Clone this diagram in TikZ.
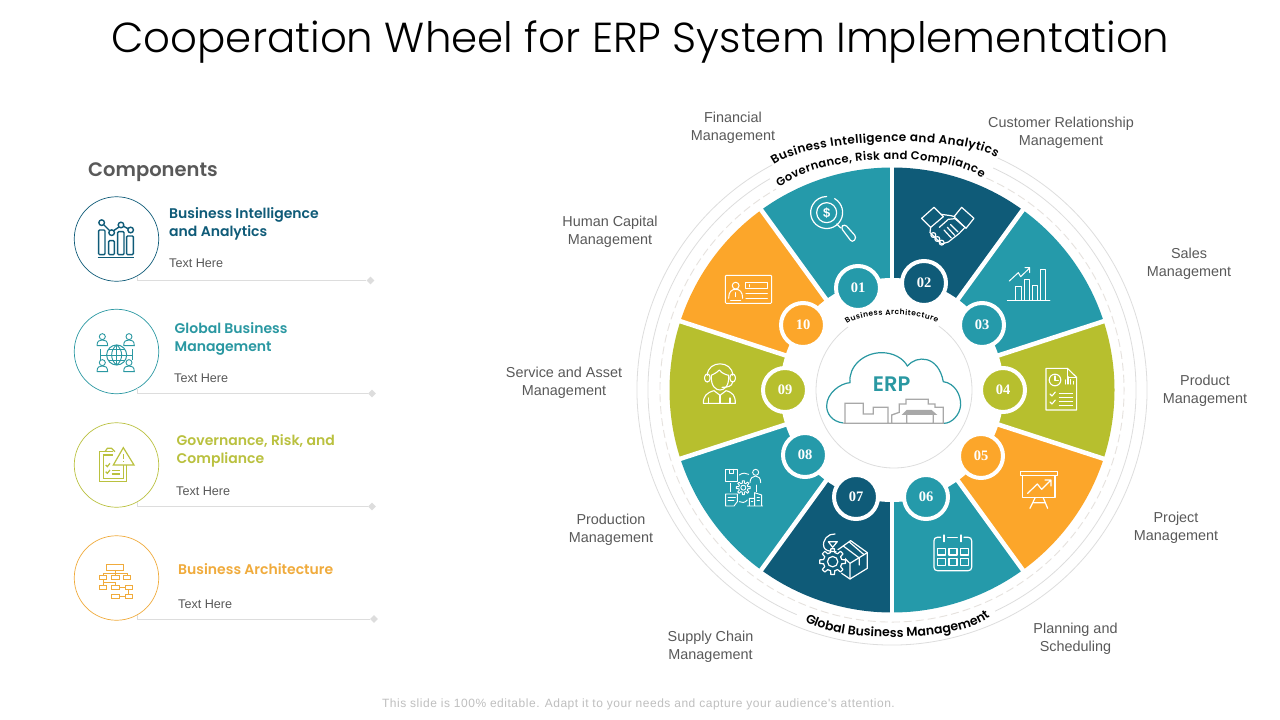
\documentclass[tikz,border=0pt]{standalone}
\usepackage{fontspec}
\setmainfont{Liberation Sans}
\newfontfamily\gothic{Poppins}
\newfontfamily\gothiclight[UprightFont=* Light]{Poppins}
\newfontfamily\gothicbold[UprightFont=* SemiBold]{Poppins}
\newfontfamily\numfont{Liberation Serif}
\newfontfamily\footfont[LetterSpace=4.4]{Liberation Sans}
\usetikzlibrary{decorations.text,shapes.geometric}
\definecolor{cteal}{HTML}{259AAA}
\definecolor{cdark}{HTML}{0F5B78}
\definecolor{colive}{HTML}{B7BF2E}
\definecolor{corange}{HTML}{FCA62A}
\definecolor{hteal}{HTML}{2A98A2}
\definecolor{holive}{HTML}{BAC13F}
\definecolor{horange}{HTML}{F0AB3C}
\definecolor{lblgray}{HTML}{595959}
\definecolor{ringgray}{HTML}{DDDDDD}
\definecolor{dashgray}{HTML}{E6E2DE}
\definecolor{bldgray}{HTML}{A8A8A8}
\tikzset{
  wedgefill/.style={fill=#1,draw=none},
  gapline/.style={white,line width=4.5pt},
  numring/.style={circle,fill=#1,draw=white,line width=4pt,minimum size=44pt,inner sep=0pt,text=white,font=\numfont\bfseries\fontsize{14.5}{14.5}\selectfont},
  label/.style={align=center,text=lblgray,font=\fontsize{14.4}{18}\selectfont},
  bighead/.style={anchor=west,align=left,font=\gothicbold\fontsize{14}{18}\selectfont},
  subtext/.style={anchor=west,text=lblgray,font=\fontsize{12.6}{14}\selectfont},
  hcircle/.style={circle,draw=#1,line width=.7pt,minimum size=84.5pt,inner sep=0pt},
  leader/.style={draw=#1,line width=.9pt},
  enddot/.style={diamond,fill=#1,inner sep=0pt,minimum size=8pt},
  wicon/.style={draw=white,line width=1.2pt,line join=round,line cap=round},
  zoomed/.style={x=.3333pt,y=-.3333pt}
}
\newcommand{\curvetext}[6]{% P0,C1,C2,P3,size,text
  \path[decorate,decoration={text along path,text align={fit to path},
     text={|\gothicbold\fontsize{#5}{#5}\selectfont|#6}}]
     (#1) .. controls (#2) and (#3) .. (#4);}
\newcommand{\gearshape}[4]{% cx,cy,r1,r2 : gear outline in local units
  \foreach \t in {0,45,...,315}{
    \draw (#1,#2) ++(\t-13:#3) -- ($(#1,#2)+(\t-8:#4)$) -- ($(#1,#2)+(\t+8:#4)$) -- ($(#1,#2)+(\t+13:#3)$) -- ($(#1,#2)+(\t+32:#3)$);
  }}
\usetikzlibrary{calc}
\begin{document}
\begin{tikzpicture}[x=1pt,y=-1pt]
\useasboundingbox (0,0) rectangle (1280,720);
\fill[white] (0,0) rectangle (1280,720);

\node[inner sep=0pt] (title) at (640.5,42) {\resizebox{1058pt}{!}{\gothiclight\fontsize{44}{44}\selectfont Cooperation Wheel for ERP System Implementation}};

% left panel
\node[anchor=west,text=lblgray,inner sep=0pt] (comp) at (88,172) {\gothicbold\fontsize{19.5}{20}\selectfont Components};

\node[hcircle=cdark] (c1) at (116.5,239) {};
\node[enddot=ringgray] (d1) at (370.5,280.5) {};
\draw[leader=ringgray] (c1.300) |- (d1);
\node[bighead,text=cdark,inner sep=0pt] (h1) at (169,224) {Business Intelligence\\and Analytics};
\node[subtext,inner sep=0pt] (s1) at (169,263) {Text Here};

\node[hcircle=hteal] (c2) at (116.5,351.5) {};
\node[enddot=ringgray] (d2) at (372,393.5) {};
\draw[leader=ringgray] (c2.300) |- (d2);
\node[bighead,text=hteal,inner sep=0pt] (h2) at (174.5,339) {Global Business\\Management};
\node[subtext,inner sep=0pt] (s2) at (174,378.5) {Text Here};

\node[hcircle=holive] (c3) at (116.5,465) {};
\node[enddot=ringgray] (d3) at (372,506.5) {};
\draw[leader=ringgray] (c3.300) |- (d3);
\node[bighead,text=holive,inner sep=0pt] (h3) at (176.5,451) {Governance, Risk, and\\Compliance};
\node[subtext,inner sep=0pt] (s3) at (176,491.5) {Text Here};

\node[hcircle=horange] (c4) at (116.5,578) {};
\node[enddot=ringgray] (d4) at (374,619) {};
\draw[leader=ringgray] (c4.300) |- (d4);
\node[bighead,text=horange,inner sep=0pt] (h4) at (178,569.5) {Business Architecture};
\node[subtext,inner sep=0pt] (s4) at (178,604) {Text Here};

% left icon A
\begin{scope}[shift={(60,180)},zoomed,draw=cdark,line width=1.4pt]
\foreach \xx/\xw/\yy in {116/19/150,146/17/182,173/19/155,200/20/168}
  \draw[rounded corners=1pt] (\xx,\yy) rectangle (\xx+\xw,224);
\draw (113,232) -- (222,232);
\draw (125,128) circle[radius=2.8pt] (155,158) circle[radius=2.8pt] (183,135) circle[radius=2.8pt] (212,150) circle[radius=2.8pt];
\draw (131,134) -- (149,152) (161,152) -- (177,141) (191,139) -- (204,146);
\end{scope}
% left icon B
\begin{scope}[shift={(60,180)},zoomed,draw=hteal,line width=.9pt]
\draw[line width=1pt] (170,525) circle[radius=10pt];
\draw (170,495) -- (170,555) (140,525) -- (200,525) (145,508) -- (195,508) (145,542) -- (195,542);
\draw (170,495) .. controls (150,510) and (150,540) .. (170,555) (170,495) .. controls (190,510) and (190,540) .. (170,555);
\foreach \xx/\yy in {127/470,207/470,127/548,207/548}{
  \draw (\xx,\yy) circle[radius=3pt];
  \draw (\xx-16,\yy+27) -- (\xx+16,\yy+27) .. controls (\xx+16,\yy+12) and (\xx+8,\yy+10) .. (\xx,\yy+10) .. controls (\xx-8,\yy+10) and (\xx-16,\yy+12) .. (\xx-16,\yy+27);}
\draw (122,508) -- (122,540) (122,525) -- (140,525) (218,508) -- (218,540) (200,525) -- (218,525);
\end{scope}
% left icon C
\begin{scope}[shift={(60,410)},zoomed,draw=holive,line width=1.2pt]
\draw (158,125) -- (118,125) -- (118,215) -- (200,215) -- (200,165);
\draw (130,135) -- (130,205) -- (190,205) -- (190,165);
\draw (130,135) -- (158,135);
\draw (135,125) -- (142,115) -- (155,115) -- (165,125);
\draw (160,165) -- (190,113) -- (222,165) -- cycle;
\draw[line width=1.5pt] (190,132) -- (190,148) (190,153) -- (190,157);
\draw (137,165) -- (142,170) -- (150,160) (137,185) -- (142,190) -- (150,180);
\draw (155,182) -- (180,182) (155,192) -- (180,192);
\end{scope}
% left icon D
\begin{scope}[shift={(60,410)},zoomed,draw=horange,line width=.9pt]
\draw (140,463) rectangle (190,480);
\foreach \xa/\xb/\yy in {118/140/497,155/177/497,190/212/497,118/140/527,155/177/527,195/218/527,155/177/552,195/218/552}
  \draw (\xa,\yy) rectangle (\xb,\yy+12);
\draw (165,480) -- (165,497) (129,497) -- (129,489) -- (201,489) -- (201,497);
\draw (129,509) -- (129,527) (129,518) -- (165,518) -- (165,527);
\draw (177,533) -- (195,533) (177,558) -- (195,558) (206,539) -- (206,552);
\end{scope}

% outer labels
\node[label] (l01) at (733,127.5) {Financial\\Management};
\node[label] (l02) at (1061,133) {Customer Relationship\\Management};
\node[label] (l03) at (1189,264) {Sales\\Management};
\node[label] (l04) at (1205,391) {Product\\Management};
\node[label] (l05) at (1176,528) {Project\\Management};
\node[label] (l06) at (1075.5,639) {Planning and\\Scheduling};
\node[label] (l07) at (710.5,647) {Supply Chain\\Management};
\node[label] (l08) at (611,530) {Production\\Management};
\node[label] (l09) at (564,383) {Service and Asset\\Management};
\node[label] (l10) at (610,232) {Human Capital\\Management};

% wheel, in a scope with y pointing up and origin at the centre
\begin{scope}[shift={(892,390)},y=1pt]
\foreach \a/\col in {54/cdark,18/cteal,-18/colive,-54/corange,-90/cteal,-126/cdark,-162/cteal,-198/colive,-234/corange,-270/cteal}
  \fill[wedgefill=\col] (0,0) -- (\a:222.5pt) arc[start angle=\a,delta angle=36,radius=222.5pt] -- cycle;
\foreach \a in {90,54,18,-18,-54,-90,-126,-162,-198,-234}
  \draw[gapline] (0,0) -- (\a:226pt);
\fill[white] (0,0) circle[radius=112pt];
% rings
\draw[ringgray,line width=.8pt] (65.5:255pt) arc[start angle=65.5,end angle=-242,radius=255pt];
\draw[ringgray,line width=.8pt] (65.5:244pt) arc[start angle=65.5,end angle=-65,radius=244pt];
\draw[ringgray,line width=.8pt] (-113:244pt) arc[start angle=-113,end angle=-240,radius=244pt];
\draw[dashgray,line width=.9pt,dash pattern=on 8pt off 4pt] (66:232pt) arc[start angle=66,end angle=-240,radius=232pt];
% inner circle
\draw[ringgray,line width=.8pt] (2pt,0) ++(55:78pt) arc[start angle=55,end angle=-234,radius=78pt];
\end{scope}

% ring texts
\curvetext{774,165}{811,138}{959,133}{996,158}{12}{Business Intelligence and Analytics}
\curvetext{780,188}{815,154}{947,150}{982,178}{11.5}{Governance, Risk and Compliance}
\curvetext{805,621}{836,643}{958,643}{990,617}{12.5}{Global Business Management}
\curvetext{847,324}{862,312}{921,312}{937,323}{7.5}{Business Architecture}

% number badges
\node[numring=cteal] (n01) at (858,288) {01};
\node[numring=cdark] (n02) at (924,283) {02};
\node[numring=cteal] (n03) at (982,325) {03};
\node[numring=colive] (n04) at (1003,390) {04};
\node[numring=corange] (n05) at (981,456) {05};
\node[numring=cteal] (n06) at (926,497) {06};
\node[numring=cdark] (n07) at (856,497) {07};
\node[numring=cteal] (n08) at (805,455) {08};
\node[numring=colive] (n09) at (785,390) {09};
\node[numring=corange] (n10) at (803,325) {10};

% ERP cloud
\begin{scope}[shift={(760,280)},zoomed]
\draw[hteal,line width=1.2pt] (250,429) .. controls (215,425) and (200,400) .. (200,378) .. controls (200,340) and (240,310) .. (270,308) .. controls (265,260) and (310,218) .. (365,218) .. controls (400,218) and (430,235) .. (442,258) .. controls (470,225) and (535,225) .. (550,305) .. controls (585,310) and (603,345) .. (602,375) .. controls (600,405) and (575,430) .. (552,430);
\draw[bldgray,line width=1.3pt,line join=miter] (250,430) -- (552,430)
  (255,430) -- (255,370) -- (310,370) -- (310,402) -- (340,402) -- (340,382) -- (384,382) -- (384,430)
  (395,430) -- (395,405) -- (418,397) -- (418,372) -- (438,372) -- (438,358) -- (505,358) -- (505,372) -- (525,372) -- (525,382) -- (550,382) -- (550,430)
  (440,405) -- (440,430) (520,405) -- (520,430);
\fill[bldgray] (425,405) -- (440,390) -- (515,390) -- (532,405) -- cycle;
\node[text=hteal,inner sep=0pt,font=\gothicbold\fontsize{21}{21}\selectfont] (erp) at (395,312) {ERP};
\end{scope}

% wheel icons
\begin{scope}[shift={(620,120)},zoomed,wicon]% 01
\draw (644,236) arc[start angle=60,delta angle=-330,radius=16pt];
\draw (620,278) circle[radius=10pt];
\node[text=white,inner sep=0pt,font=\bfseries\fontsize{13}{13}\selectfont] (dollar) at (620,278) {\$};
\draw (650,312) -- (662,324);
\draw[rounded corners=3pt] (662,322) -- (674,312) -- (710,352) -- (697,368) -- cycle;
\end{scope}
\begin{scope}[shift={(880,120)},zoomed,wicon]% 02
\draw (125,295) -- (162,262) -- (190,290) -- (152,322) -- cycle;
\draw (245,262) -- (282,295) -- (258,325) -- (222,290) -- cycle;
\draw (184,283) -- (212,287) -- (225,290);
\draw (178,322) -- (205,298) -- (225,296) -- (255,322);
\draw (152,322) -- (150,338) -- (185,372) -- (205,366) -- (238,340) -- (255,322);
\draw (160,345) circle[radius=2.4pt] (172,357) circle[radius=2.4pt] (185,368) circle[radius=2.4pt];
\draw (192,330) -- (214,354) (202,322) -- (224,346) (212,314) -- (234,336);
\end{scope}
\begin{scope}[shift={(880,120)},zoomed,wicon,line width=1pt]% 03
\draw (382,541) -- (510,541);
\draw (408,541) -- (408,500) -- (424,500) -- (424,541);
\draw (435,541) -- (435,478) -- (449,478) -- (449,541);
\draw (458,541) -- (458,498) -- (472,498) -- (472,541);
\draw (481,541) -- (481,450) -- (496,450) -- (496,541);
\draw (388,483) -- (415,458) -- (422,470) -- (448,445) (435,443) -- (449,443) -- (449,458);
\end{scope}
\begin{scope}[shift={(1030,360)},zoomed,wicon,line width=1.1pt]% 04
\draw (48,25) -- (112,25) -- (140,52) -- (140,150) -- (48,150) -- cycle;
\draw (112,25) -- (112,52) -- (140,52);
\draw (75,60) circle[radius=5.8pt];
\draw (75,48) -- (75,62) -- (85,62);
\draw (106,72) -- (106,60) (114,72) -- (114,50) (122,72) -- (122,58) (130,72) -- (130,64);
\draw (60,102) -- (66,108) -- (76,96) (60,126) -- (66,132) -- (76,120);
\draw (88,100) -- (128,100) (88,112) -- (128,112) (88,124) -- (128,124) (88,136) -- (128,136);
\end{scope}
\begin{scope}[shift={(880,430)},zoomed,wicon]% 05
\draw (422,125) rectangle (532,137);
\draw (428,137) -- (428,202) -- (525,202) -- (525,137);
\draw (443,190) -- (472,162) -- (485,178) -- (513,150) (495,150) -- (513,150) -- (513,168);
\draw (465,204) -- (450,235) (490,204) -- (503,235) (460,218) -- (495,218);
\end{scope}
\begin{scope}[shift={(880,430)},zoomed,wicon]% 06
\draw (182,322) -- (172,322) .. controls (165,322) and (162,326) .. (162,332) -- (162,412) .. controls (162,418) and (166,422) .. (172,422) -- (265,422) .. controls (271,422) and (275,418) .. (275,412) -- (275,332) .. controls (275,326) and (271,322) .. (265,322) -- (252,322);
\draw (203,322) -- (232,322);
\draw (192,315) -- (192,335) (243,315) -- (243,335);
\foreach \xx in {173,207,241}\foreach \yy in {355,386}
  \draw (\xx,\yy) rectangle (\xx+24,\yy+20);
\end{scope}
\begin{scope}[shift={(660,430)},zoomed,wicon]% 07
\draw (530,362) -- (572,332) -- (622,368) -- (622,415) -- (570,447) -- (545,430);
\draw (530,362) -- (570,400) -- (622,368) (570,400) -- (570,447);
\draw (550,348) -- (598,384) -- (598,405) (568,336) -- (612,374);
\fill[cdark] (518,395) circle[radius=13pt];
\gearshape{518}{395}{28}{39}
\draw (518,395) circle[radius=5.2pt];
\draw (492,352) .. controls (485,330) and (505,310) .. (525,312) (528,365) .. controls (505,365) and (495,360) .. (492,352);
\draw (505,335) -- (518,352) -- (532,335) -- cycle;
\end{scope}
\begin{scope}[shift={(660,430)},zoomed,wicon,line width=.9pt]% 08
\draw (197,118) rectangle (232,155);
\draw (208,118) -- (208,130) -- (220,130) -- (220,118);
\draw (287,127) circle[radius=3pt];
\draw (270,158) .. controls (270,145) and (278,138) .. (287,138) .. controls (296,138) and (302,145) .. (302,158);
\draw (250,173) circle[radius=2.5pt];
\gearshape{250}{173}{14}{21}
\draw (197,192) -- (232,192) -- (232,215) -- (222,228) -- (197,228) -- cycle;
\draw (204,202) -- (226,202) (204,212) -- (222,212);
\draw (268,228) -- (268,205) -- (284,205) (284,228) -- (284,188) -- (305,195) -- (305,228) (262,228) -- (308,228);
\draw (291,202) -- (298,202) (291,212) -- (298,212) (274,215) -- (279,215);
\draw (238,135) .. controls (247,128) and (258,128) .. (266,133);
\draw (210,160) -- (210,185) (290,165) -- (290,185);
\draw (238,215) .. controls (245,220) and (255,218) .. (262,210);
\end{scope}
\begin{scope}[shift={(690,360)},zoomed,wicon,line width=1.1pt]% 09
\draw (64,46) .. controls (62,80) and (78,90) .. (90,90) .. controls (102,90) and (118,80) .. (116,46);
\draw (64,46) .. controls (72,42) and (80,38) .. (88,30) .. controls (95,40) and (108,44) .. (116,46);
\draw (52,46) .. controls (52,0) and (128,0) .. (128,46);
\draw[rounded corners=3pt] (44,42) rectangle (60,66);
\draw[rounded corners=3pt] (120,42) rectangle (136,66);
\draw (128,66) .. controls (126,80) and (112,82) .. (96,82);
\draw (40,130) .. controls (40,108) and (50,98) .. (72,92) -- (90,106) -- (108,92) .. controls (130,98) and (136,108) .. (136,130) -- cycle;
\draw (56,114) -- (56,130) (120,114) -- (120,130) (90,106) -- (90,130);
\end{scope}
\begin{scope}[shift={(620,120)},zoomed,wicon,line width=1pt]% 10
\draw[rounded corners=1pt] (316,466) rectangle (455,550);
\draw (378,487) rectangle (442,507);
\draw (390,494) -- (390,501);
\draw (378,522) -- (442,522) (378,537) -- (442,537);
\draw (347,497) circle[radius=3.4pt];
\draw (326,535) .. controls (326,515) and (335,508) .. (347,508) .. controls (359,508) and (368,515) .. (368,535);
\draw (347,518) -- (347,530) (332,542) -- (362,542);
\end{scope}

\node[text=black!25,inner sep=0pt,font=\footfont\fontsize{12}{12}\selectfont] (foot) at (638.5,704.5) {This slide is 100\% editable. Adapt it to your needs and capture your audience's attention.};
\end{tikzpicture}
\end{document}
